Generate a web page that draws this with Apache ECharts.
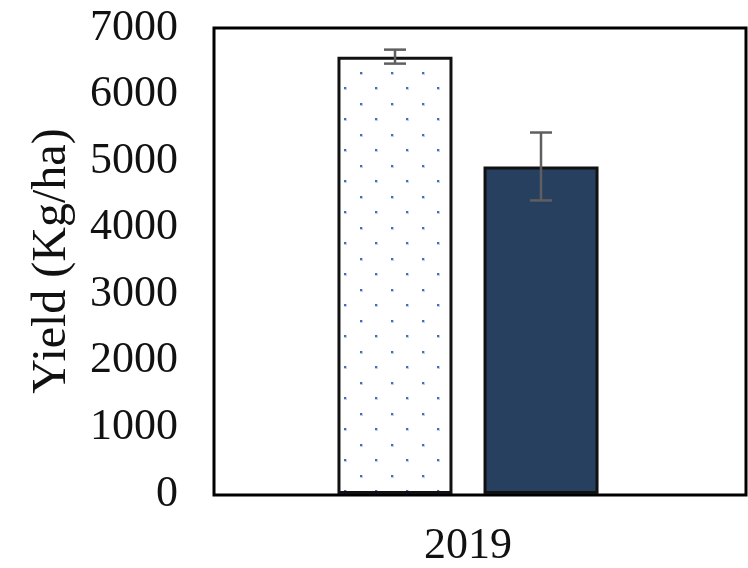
<!DOCTYPE html>
<html>
<head>
<meta charset="utf-8">
<script src="https://cdn.jsdelivr.net/npm/echarts@6/dist/echarts.min.js"></script>
<style>
  html, body { margin: 0; padding: 0; background: #fff; }
  #chart { width: 748px; height: 568px; }
</style>
</head>
<body>
<div id="chart"></div>
<script>
// Grain yield by season, two treatments, mean ± error
const categories = ['2019'];
const yieldDotted = [6570];
const errDotted = [105];
const yieldSolid = [4920];
const errSolid = [510];
const yMin = 0, yMax = 7000, yStep = 1000;
const yTitle = 'Yield (Kg/ha)';

const FONT = "'Liberation Serif', 'Times New Roman', serif";
const BAR_W = 115;
const BAR_GAP = 31;

// Dotted fill tile for the first bar
function dotPattern() {
  const c = document.createElement('canvas');
  c.width = 31; c.height = 31;
  const g = c.getContext('2d');
  g.fillStyle = '#ffffff';
  g.fillRect(0, 0, 31, 31);
  const dots = [[19, 10], [3, 25]];
  dots.forEach(([x, y]) => {
    g.fillStyle = 'rgba(74,123,191,0.35)';
    g.fillRect(x, y, 3, 3);
    g.fillStyle = 'rgba(62,112,186,1)';
    g.fillRect(x, y, 2, 2);
  });
  return c;
}

function errorSeries(values, errs, offset) {
  return {
    type: 'custom',
    xAxisIndex: 0, yAxisIndex: 0,
    z: 5,
    data: values.map((v, i) => [i, v, errs[i]]),
    renderItem: function (params, api) {
      const cat = api.value(0), v = api.value(1), e = api.value(2);
      const hi = api.coord([cat, v + e]);
      const lo = api.coord([cat, v - e]);
      const x = hi[0] + offset;
      const cap = 11;
      const style = { stroke: '#5f5f5f', lineWidth: 2.5 };
      return {
        type: 'group',
        children: [
          { type: 'line', shape: { x1: x, y1: hi[1], x2: x, y2: lo[1] }, style },
          { type: 'line', shape: { x1: x - cap, y1: hi[1], x2: x + cap, y2: hi[1] }, style },
          { type: 'line', shape: { x1: x - cap, y1: lo[1], x2: x + cap, y2: lo[1] }, style }
        ]
      };
    }
  };
}

const chart = echarts.init(document.getElementById('chart'), null, { renderer: 'canvas' });
const half = (BAR_W + BAR_GAP) / 2;

chart.setOption({
  animation: false,
  backgroundColor: '#ffffff',
  grid: [
    { left: 214, right: 26, top: 28, bottom: 73, show: false },
    { left: 214, right: 2, top: 28, bottom: 73, show: true,
      borderColor: '#000', borderWidth: 3, backgroundColor: 'transparent' }
  ],
  xAxis: [
    {
      type: 'category', gridIndex: 0, data: categories,
      axisLine: { show: false }, axisTick: { show: false },
      axisLabel: { fontFamily: FONT, fontSize: 44, color: '#111', margin: 30 }
    },
    { type: 'category', gridIndex: 1, data: categories, show: false }
  ],
  yAxis: [
    {
      type: 'value', gridIndex: 0, min: yMin, max: yMax, interval: yStep,
      name: yTitle, nameLocation: 'middle', nameRotate: 90, nameGap: 138,
      nameTextStyle: { fontFamily: FONT, fontSize: 48, color: '#111' },
      axisLine: { show: false }, axisTick: { show: false },
      splitLine: { show: false },
      axisLabel: {
        fontFamily: FONT, fontSize: 44, color: '#111', margin: 36,
        formatter: (v) => String(v)
      }
    },
    { type: 'value', gridIndex: 1, min: yMin, max: yMax, show: false, splitLine: { show: false } }
  ],
  series: [
    {
      type: 'bar', xAxisIndex: 0, yAxisIndex: 0,
      data: yieldDotted,
      barWidth: BAR_W, barGap: (BAR_GAP / BAR_W * 100).toFixed(1) + '%',
      itemStyle: {
        color: { image: dotPattern(), repeat: 'repeat' },
        borderColor: '#111', borderWidth: 3
      }
    },
    {
      type: 'bar', xAxisIndex: 0, yAxisIndex: 0,
      data: yieldSolid,
      barWidth: BAR_W,
      itemStyle: { color: '#27405f', borderColor: '#111', borderWidth: 3 }
    },
    errorSeries(yieldDotted, errDotted, -half),
    errorSeries(yieldSolid, errSolid, half)
  ]
});
</script>
</body>
</html>
